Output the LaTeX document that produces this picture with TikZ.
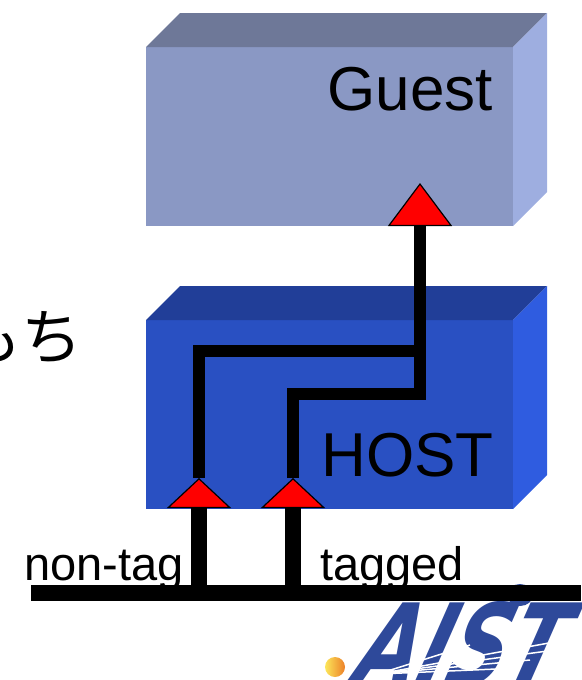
\documentclass[tikz,border=0pt]{standalone}
\usepackage{fontspec}
\setmainfont{Liberation Sans}
\newfontfamily\jpfont{Noto Sans CJK JP}
\newfontfamily\logofont{DejaVu Sans}
\usepackage{tikz}
\usepackage{xcolor}
\usetikzlibrary{arrows.meta}
\definecolor{guestfront}{RGB}{138,152,196}
\definecolor{guesttop}{RGB}{110,120,152}
\definecolor{guestside}{RGB}{158,174,224}
\definecolor{hostfront}{RGB}{41,80,194}
\definecolor{hosttop}{RGB}{33,62,152}
\definecolor{hostside}{RGB}{47,92,224}
\definecolor{aistblue}{RGB}{46,73,154}

\begin{document}
\begin{tikzpicture}[x=1pt,y=-1pt,
  box/.style={rectangle,inner sep=0,outer sep=0,minimum width=367pt},
  lbl/.style={inner sep=0,anchor=base east,font=\fontsize{62}{62}\selectfont},
  tag/.style={inner sep=0,anchor=base west,font=\fontsize{47}{47}\selectfont},
  wire/.style={line width=12pt},
  feed/.style={line width=16pt,-{Triangle[width=64pt,length=30pt,fill=red,line width=1.2pt]}}]
\useasboundingbox (0,0) rectangle (581,680);

\node[box,fill=guestfront,minimum height=179pt] (guest) at (329.5,136.5) {};
\fill[guesttop] (guest.north west) -- ++(34,-34) -- ([shift={(34pt,34pt)}]guest.north east) -- (guest.north east) -- cycle;
\fill[guestside] (guest.north east) -- ([shift={(34pt,34pt)}]guest.north east) -- ([shift={(34pt,34pt)}]guest.south east) -- (guest.south east) -- cycle;
\node[lbl] (guestlbl) at (493,110) {Guest};

\node[box,fill=hostfront,minimum height=189pt] (host) at (329.5,414.5) {};
\fill[hosttop] (host.north west) -- ++(34,-34) -- ([shift={(34pt,34pt)}]host.north east) -- (host.north east) -- cycle;
\fill[hostside] (host.north east) -- ([shift={(34pt,34pt)}]host.north east) -- ([shift={(34pt,34pt)}]host.south east) -- (host.south east) -- cycle;
\node[lbl] (hostlbl) at (494,476) {HOST};

\node[inner sep=0,font=\jpfont\fontsize{61}{61}\selectfont] (mochi) at (22,337) {もち};

\coordinate (nt) at (199,478);
\coordinate (tg) at (293,478);
\coordinate (gin) at (420,183);
\coordinate (mrg) at (420,351);
\coordinate (bend) at (293,394);
\coordinate (busL) at (31,593);
\coordinate (busR) at (581,593);

\draw[wire] (nt) |- (mrg);
\draw[wire,-{Triangle[width=64pt,length=43pt,fill=red,line width=1.2pt]}] (tg) -- (bend) -| (gin);
\draw[feed] (nt |- busL) -- (nt);
\draw[feed] (tg |- busL) -- (tg);

\fill[aistblue] (520,595) ellipse [x radius=13pt,y radius=11pt];
\node[inner sep=0,anchor=base west,text=aistblue,xslant=0.3,xscale=0.72,font=\logofont\fontsize{112}{112}\selectfont\bfseries\itshape] (aist) at (350,684) {AIST};
\foreach \e in {(470,645),(560,641),(555,650),(530,660),(520,668)}
  \draw[white,line width=1.5pt] (378,674) -- \e;
\shade[left color={rgb,255:red,252;green,230;blue,90},right color={rgb,255:red,236;green,128;blue,40}] (335,667) circle (10pt);

\node[tag] (nontag) at (24,580) {non-tag};
\node[tag] (tagged) at (320,580) {tagged};
\draw[line width=16pt] (busL) -- (busR);
\end{tikzpicture}
\end{document}
